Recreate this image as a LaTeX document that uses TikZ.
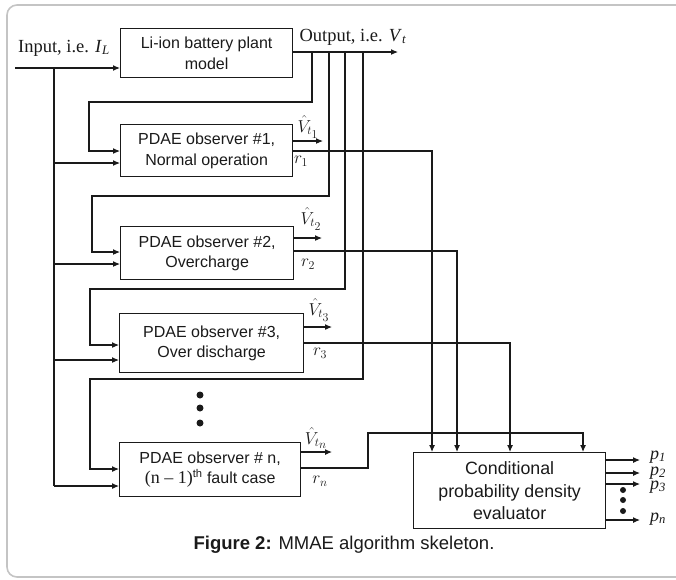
\documentclass[tikz,border=0pt]{standalone}
\usepackage{fontspec}
\setmainfont{Liberation Serif}
\setsansfont{Liberation Sans}
\DeclareMathSizes{17}{17}{13}{10}
\usetikzlibrary{arrows.meta,calc}
\definecolor{ink}{HTML}{1A1A1A}
\definecolor{framegray}{HTML}{C4C4C4}
\newcommand{\vhat}[1]{$\hat{V}_{\scriptstyle t_{\scriptstyle #1}}$}
\tikzset{
  boxnode/.style={draw=ink, line width=1.3pt, rectangle, inner sep=0pt, anchor=north west,
     align=center, font=\sffamily\fontsize{16}{20.5}\selectfont, text=ink},
  wire/.style={draw=ink, line width=1.1pt},
  arr/.style={wire, -{Latex[length=7pt,width=6pt]}},
  lbl/.style={inner sep=0pt, text=ink},
  mlbl/.style={lbl, font=\fontsize{17}{19}\selectfont},
  plbl/.style={lbl, font=\rmfamily\fontsize{18}{20}\selectfont, anchor=west},
  dotnode/.style={circle, fill=ink, inner sep=0pt, minimum size=7pt},
  sdot/.style={circle, fill=ink, inner sep=0pt, minimum size=6pt},
}
\begin{document}
\begin{tikzpicture}[x=1pt,y=-1pt]
\useasboundingbox (0,0) rectangle (676,579);
% frame
\draw[framegray, line width=1.6pt, rounded corners=10pt] (680,5) -- (7,5) -- (7,577) -- (680,577);

% boxes
\node[boxnode, minimum width=172, minimum height=49] (plant) at (120,28) {Li-ion battery plant\\model};
\node[boxnode, minimum width=172, minimum height=52] (obs1) at (120,124) {PDAE observer \#1,\\Normal operation};
\node[boxnode, minimum width=173, minimum height=53] (obs2) at (120,226) {PDAE observer \#2,\\Overcharge};
\node[boxnode, minimum width=184, minimum height=59] (obs3) at (119,313) {PDAE observer \#3,\\Over discharge};
\node[boxnode, minimum width=181, minimum height=54] (obsn) at (119,442) {PDAE observer \# n,\\{\rmfamily\fontsize{18}{20}\selectfont(n -- 1)}\textsuperscript{th} fault case};
\node[boxnode, minimum width=192, minimum height=76, font=\sffamily\fontsize{17.8}{22.5}\selectfont] (eval) at (413,452) {Conditional\\probability density\\evaluator};

% texts
\node[lbl, font=\rmfamily\fontsize{18.5}{20}\selectfont] (intext) at (64,48) {Input, i.e. \textit{I}\textsubscript{\textit{L}}};
\node[lbl, font=\rmfamily\fontsize{18.5}{20}\selectfont] (outtext) at (353,37) {Output, i.e. \textit{V}\textsubscript{\textit{t}}};
\node[lbl, font=\sffamily\fontsize{18.5}{20}\selectfont] (caption) at (344,545) {\textbf{Figure 2:} MMAE algorithm skeleton.};

% input
\coordinate (inL) at (15,68);
\coordinate (busTop) at (54,68);
\coordinate (busBot) at (54,486);
\draw[arr] (inL) -- (inL -| plant.west);
\draw[wire] (busTop) -- (busBot);
\draw[arr] (54,163) -- (54,163 -| obs1.west);
\draw[arr] (54,264) -- (54,264 -| obs2.west);
\draw[arr] (54,360) -- (54,360 -| obs3.west);
\draw[arr] (busBot) -- (busBot -| obsn.west);

% output
\coordinate (outR) at (398,52);
\draw[arr] (plant.east |- outR) -- (outR);

% feedback lines
\draw[arr] (312,52) -- (312,102) -- (89,102) -- (89,151) -- (89,151 -| obs1.west);
\draw[arr] (329,52) -- (329,196) -- (92,196) -- (92,252) -- (92,252 -| obs2.west);
\draw[arr] (345,52) -- (345,289) -- (90,289) -- (90,345) -- (90,345 -| obs3.west);
\draw[arr] (363,52) -- (363,379) -- (90,379) -- (90,469) -- (90,469 -| obsn.west);

% estimated outputs
\draw[arr] (obs1.east |- 0,141) -- (323,141);
\draw[arr] (obs2.east |- 0,238) -- (322,238);
\draw[arr] (obs3.east |- 0,327) -- (332,327);
\draw[arr] (obsn.east |- 0,452) -- (332,452);
\node[mlbl] (v1) at (308,127) {\vhat{1}};
\node[mlbl] (v2) at (311,219) {\vhat{2}};
\node[mlbl] (v3) at (319,310) {\vhat{3}};
\node[mlbl] (vn) at (316,438) {\vhat{n}};

% residuals
\draw[arr] (obs1.east |- 0,151) -- (432,151) -- (432,151 |- eval.north);
\draw[arr] (obs2.east |- 0,251) -- (457,251) -- (457,251 |- eval.north);
\draw[arr] (obs3.east |- 0,343) -- (510,343) -- (510,343 |- eval.north);
\draw[arr] (obsn.east |- 0,468) -- (368,468) -- (368,433) -- (583,433) -- (583,433 |- eval.north);
\node[mlbl] (r1) at (301,161) {$r_1$};
\node[mlbl] (r2) at (308,264) {$r_2$};
\node[mlbl] (r3) at (320,353) {$r_3$};
\node[mlbl] (rn) at (320,481) {$r_n$};

% dots
\node[dotnode] (d1) at (200,395) {};
\node[dotnode] (d2) at (200,408) {};
\node[dotnode] (d3) at (200,423) {};

% probabilities
\draw[arr] (eval.east |- 0,460) -- (640,460);
\draw[arr] (eval.east |- 0,473) -- (640,473);
\draw[arr] (eval.east |- 0,484) -- (640,484);
\draw[arr] (eval.east |- 0,520) -- (640,520);
\node[sdot] (e1) at (623,490) {};
\node[sdot] (e2) at (623,500) {};
\node[sdot] (e3) at (623,511) {};
\node[plbl] (p1) at (650,457) {\textit{p}\textsubscript{\textit{1}}};
\node[plbl] (p2) at (650,473) {\textit{p}\textsubscript{\textit{2}}};
\node[plbl] (p3) at (650,487) {\textit{p}\textsubscript{\textit{3}}};
\node[plbl] (pn) at (650,519) {\textit{p}\textsubscript{\textit{n}}};
\end{tikzpicture}
\end{document}
